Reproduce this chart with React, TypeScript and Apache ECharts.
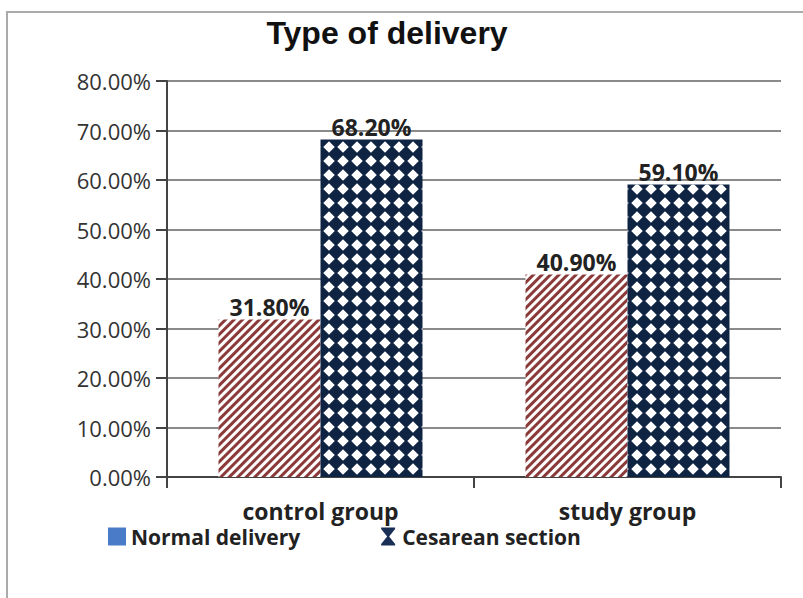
import React, { useEffect, useRef } from "react";
import * as echarts from "echarts";

const categories = ["control group", "study group"];
const normalDelivery = [31.8, 40.9];
const cesareanSection = [68.2, 59.1];
const seriesNames = ["Normal delivery", "Cesarean section"];
const chartTitle = "Type of delivery";

export default function App() {
  const ref = useRef<HTMLDivElement>(null);
  useEffect(() => {
    if (!ref.current) return;
    const chart = echarts.init(ref.current, undefined, { renderer: "svg" });
    const labelCfg = {
      show: true,
      position: "top",
      distance: 1,
      color: "#222",
      fontFamily: "Open Sans",
      fontWeight: "bold",
      fontSize: 23,
      formatter: (p: any) => Number(p.value).toFixed(2) + "%",
    };
    chart.setOption({
      animation: false,
      backgroundColor: "#fff",
      title: {
        text: chartTitle,
        left: 382,
        textAlign: "center",
        top: 12,
        textStyle: {
          fontFamily: "Liberation Sans",
          fontWeight: "bold",
          fontSize: 32,
          color: "#111",
        },
      },
      graphic: [
        {
          type: "rect",
          shape: { x: 7, y: 12, width: 820, height: 620 },
          style: { fill: "none", stroke: "#aaa", lineWidth: 2 },
          silent: true,
        },
      ],
      grid: { left: 167, right: 22, top: 81, bottom: 121 },
      legend: {
        left: 103,
        top: 521,
        itemWidth: 18,
        itemHeight: 18,
        itemGap: 81,
        textStyle: {
          fontFamily: "Open Sans",
          fontWeight: "bold",
          fontSize: 21,
          color: "#222",
        },
        data: [
          {
            name: seriesNames[0],
            icon: "rect",
            itemStyle: { color: "#4a7bc8", decal: "none" },
          },
          {
            name: seriesNames[1],
            icon: "path://M0,0 L14,0 L14,1.5 L8,9 L14,16.5 L14,18 L0,18 L0,16.5 L6,9 L0,1.5 Z",
            itemStyle: { color: "#1a2f55", decal: "none" },
          },
        ],
      },
      xAxis: {
        type: "category",
        data: categories,
        axisLine: { lineStyle: { color: "#444", width: 2 } },
        axisTick: { show: true, length: 11, interval: 0, lineStyle: { color: "#444", width: 2 } },
        axisLabel: {
          margin: 22,
          fontFamily: "Open Sans",
          fontWeight: "bold",
          fontSize: 23,
          color: "#222",
        },
      },
      yAxis: {
        type: "value",
        min: 0,
        max: 80,
        interval: 10,
        axisLine: { show: true, lineStyle: { color: "#444", width: 2 } },
        axisTick: { show: true, length: 11, lineStyle: { color: "#444", width: 2 } },
        splitLine: { lineStyle: { color: "#8a8a8a", width: 2 } },
        axisLabel: {
          margin: 16,
          fontFamily: "Open Sans",
          fontSize: 22,
          color: "#333",
          formatter: (v: number) => v.toFixed(2) + "%",
        },
      },
      series: [
        {
          name: seriesNames[0],
          type: "bar",
          data: normalDelivery,
          barWidth: 102,
          barGap: "0%",
          itemStyle: {
            color: "#ffffff",
            decal: {
              symbol: "rect",
              symbolSize: 1,
              color: "#8b3a3a",
              dashArrayX: [1, 0],
              dashArrayY: [3, 3],
              rotation: -Math.PI / 4,
            },
          },
          label: labelCfg,
        },
        {
          name: seriesNames[1],
          type: "bar",
          data: cesareanSection,
          barWidth: 102,
          barGap: "0%",
          itemStyle: {
            color: "#0f2342",
            decal: {
              symbol: "diamond",
              symbolSize: 0.82,
              color: "#ffffff",
              dashArrayX: [14, 0],
              dashArrayY: [14, 0],
              rotation: 0,
            },
          },
          label: labelCfg,
        },
      ],
    });
    return () => chart.dispose();
  }, []);
  return (
    <div
      ref={ref}
      style={{ position: "fixed", left: 0, top: 0, width: 803, height: 598 }}
    />
  );
}
